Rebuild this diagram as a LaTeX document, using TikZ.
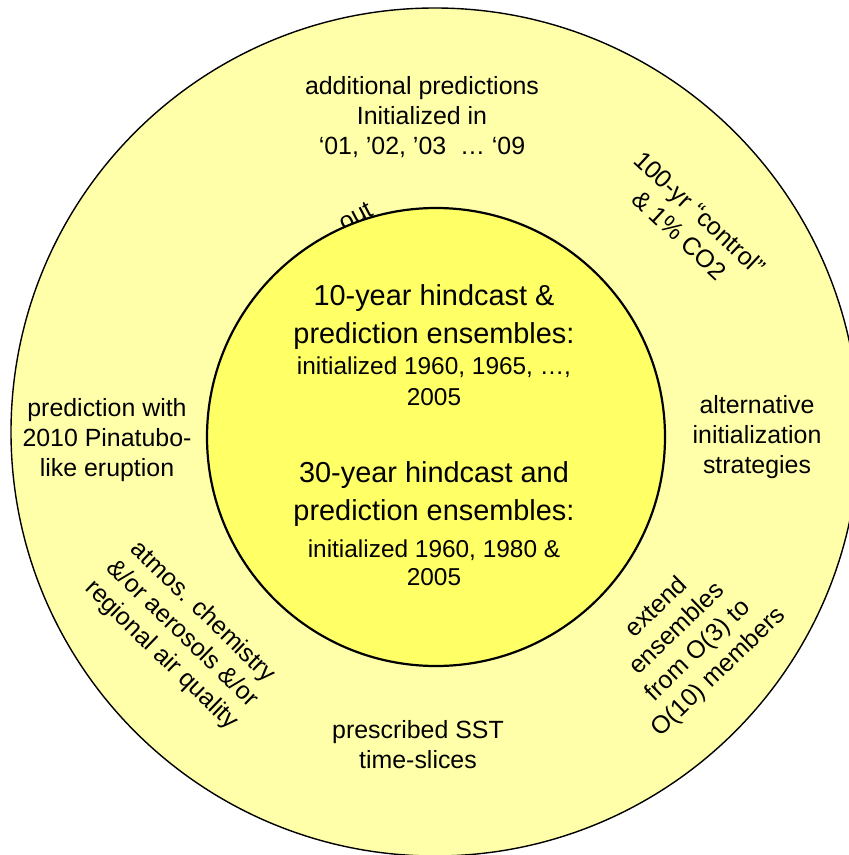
\documentclass[tikz,border=0pt]{standalone}
\usepackage{fontspec}
\setmainfont{Liberation Sans}
\definecolor{ringYellow}{RGB}{255,255,170}
\definecolor{coreYellow}{RGB}{255,255,102}

\begin{document}
\begin{tikzpicture}
[x=1bp,y=-1bp,%
  ringDecorate/.style={shape=circle,draw,line width=1.4bp,fill=ringYellow,inner sep=0pt},%
  coreDecorate/.style={shape=circle,draw,line width=2.2bp,fill=coreYellow,inner sep=0pt},%
  labelDecorate/.style={align=center,inner sep=0pt,font=\fontsize{25}{30}\selectfont},%
  bigDecorate/.style={align=center,inner sep=0pt,font=\fontsize{29}{38}\selectfont}]
\clip (0,0) rectangle (849,855);
%% rings
\node (outer) at (435,432) [ringDecorate,minimum size=848bp] {};
%% labels of the outer ring
\node (additional) at (422,117) [labelDecorate] {additional predictions\\Initialized in\\‘01, ’02, ’03 \ … ‘09};
\node (control) at (690,224) [labelDecorate,rotate=-43] {100-yr “control”\\\& 1\% CO2};
\node (pinatubo) at (107,440) [labelDecorate] {prediction with\\2010 Pinatubo-\\like eruption};
\node (alternative) at (757,437) [labelDecorate] {alternative\\initialization\\strategies};
\node (chemistry) at (182,634) [labelDecorate,rotate=-44] {atmos. chemistry\\\&/or aerosols \&/or\\regional air quality};
\node (extend) at (688,640) [labelDecorate,rotate=44] {extend\\ensembles\\from O(3) to\\O(10) members};
\node (sst) at (418,745) [labelDecorate] {prescribed SST\\time-slices};
\node (hidden) at (375,215) [labelDecorate,anchor=base east,rotate=28] {out};
%% core
\node (inner) at (436,437) [coreDecorate,minimum size=458bp] {};
\node (tenyear) at (434,317) [bigDecorate] {10-year hindcast \&\\prediction ensembles:};
\node (tenstart) at (434,381) [labelDecorate,font=\fontsize{24.5}{31}\selectfont] {initialized 1960, 1965, …,\\2005};
\node (thirtyyear) at (434,494) [bigDecorate] {30-year hindcast and\\prediction ensembles:};
\node (thirtystart) at (434,563) [labelDecorate,font=\fontsize{24.5}{28}\selectfont] {initialized 1960, 1980 \&\\2005};
\end{tikzpicture}
\end{document}
